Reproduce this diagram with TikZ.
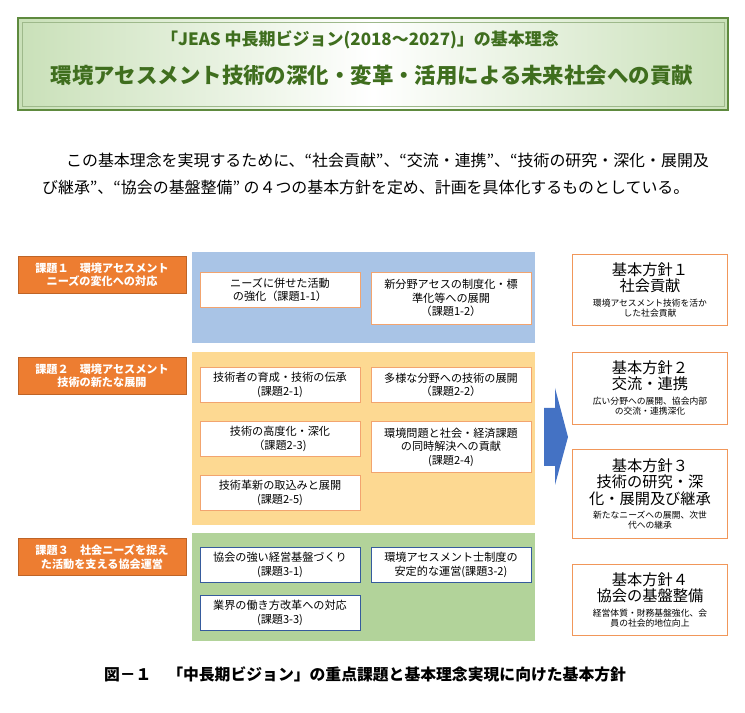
\documentclass[tikz,border=0pt]{standalone}
\usepackage{fontspec}
\setmainfont{Noto Sans CJK JP}
\usetikzlibrary{positioning}
\definecolor{titlegreen}{HTML}{3F6E1E}
\definecolor{rimgreen}{HTML}{5E8A3E}
\definecolor{paleblue}{HTML}{A9C4E6}
\definecolor{paleyellow}{HTML}{FDD992}
\definecolor{palegreen}{HTML}{B2D39A}
\definecolor{labelorange}{HTML}{ED7D31}
\definecolor{arrowblue}{HTML}{4472C4}
\newcommand{\subnote}{\fontsize{7.5}{9}\selectfont}
\tikzset{
  taskbox/.style={draw=labelorange!70,fill=white,line width=0.8pt,minimum width=4.8cm,
    minimum height=1.05cm,align=center,inner sep=1pt,font=\fontsize{9.5}{11.5}\selectfont},
  corebox/.style={taskbox,draw=arrowblue!80!black},
  themelabel/.style={fill=labelorange,draw=labelorange!80!black,text=white,minimum width=5.04cm,
    minimum height=1.12cm,align=center,inner sep=1pt,font=\bfseries\fontsize{9.5}{11.5}\selectfont},
  policybox/.style={draw=labelorange!80,fill=white,line width=0.8pt,minimum width=4.65cm,
    align=center,inner sep=2pt,font=\fontsize{13}{15}\selectfont}
}
\begin{document}
\begin{tikzpicture}[x=0.03cm,y=-0.03cm]
\useasboundingbox (0,0) rectangle (745,713);
% title panel
\draw[rimgreen,line width=2.5pt,left color=palegreen!70,right color=palegreen!70,middle color=white]
  (18,18) rectangle (728,110);
\draw[rimgreen!60,line width=0.5pt] (22,22) rectangle (724,106);
\node[font=\bfseries\fontsize{14.5}{16}\selectfont,text=titlegreen] (head) at (360,40)
  {「JEAS 中長期ビジョン(2018～2027)」の基本理念};
\node[font=\bfseries\fontsize{18.3}{20}\selectfont,text=titlegreen] (motto) at (372,75)
  {環境アセスメント技術の深化・変革・活用による未来社会への貢献};
% paragraph
\node[anchor=west,font=\fontsize{13.6}{15}\selectfont] (para1) at (62,160)
  {この基本理念を実現するために、“社会貢献”、“交流・連携”、“技術の研究・深化・展開及};
\node[anchor=west,font=\fontsize{13.6}{15}\selectfont] (para2) at (38,187)
  {び継承”、“協会の基盤整備” の４つの基本方針を定め、計画を具体化するものとしている。};
% panels
\fill[paleblue] (192,252) rectangle (535,343);
\fill[paleyellow] (192,352) rectangle (535,525);
\fill[palegreen] (192,533) rectangle (535,641);
% theme labels
\node[themelabel] (t1) at (102,275) {課題１　環境アセスメント\\ニーズの変化への対応};
\node[themelabel] (t2) at (102,376) {課題２　環境アセスメント\\技術の新たな展開};
\node[themelabel] (t3) at (102,557) {課題３　社会ニーズを捉え\\た活動を支える協会運営};
% tasks
\node[taskbox] (k11) at (280,290) {ニーズに併せた活動\\の強化（課題1-1）};
\node[taskbox,minimum height=1.56cm] (k12) at (451,298) {新分野アセスの制度化・標\\準化等への展開\\（課題1-2）};
\node[taskbox] (k21) at (280,385) {技術者の育成・技術の伝承\\(課題2-1)};
\node[taskbox] (k22) at (451,385) {多様な分野への技術の展開\\（課題2-2）};
\node[taskbox] (k23) at (280,439) {技術の高度化・深化\\（課題2-3)};
\node[taskbox,minimum height=1.53cm] (k24) at (451,447) {環境問題と社会・経済課題\\の同時解決への貢献\\(課題2-4)};
\node[taskbox] (k25) at (280,493) {技術革新の取込みと展開\\(課題2-5)};
\node[corebox] (k31) at (280,565) {協会の強い経営基盤づくり\\(課題3-1)};
\node[corebox] (k32) at (451,565) {環境アセスメント士制度の\\安定的な運営(課題3-2)};
\node[corebox] (k33) at (280,613) {業界の働き方改革への対応\\(課題3-3)};
% arrow
\fill[arrowblue] (544,408) -- (555,408) -- (555,388) -- (568,437) -- (555,485) -- (555,466) -- (544,466) -- cycle;
% policies
\node[policybox,minimum height=2.13cm] (p1) at (650,290)
  {基本方針１\\[-1pt]社会貢献\\[-3pt]\subnote 環境アセスメント技術を活か\\[-6pt]\subnote した社会貢献};
\node[policybox,minimum height=2.16cm] (p2) at (650,388)
  {基本方針２\\[-1pt]交流・連携\\[-3pt]\subnote 広い分野への展開、協会内部\\[-6pt]\subnote の交流・連携深化};
\node[policybox,minimum height=2.67cm] (p3) at (650,494)
  {基本方針３\\[-1pt]技術の研究・深\\[-1pt]化・展開及び継承\\[-3pt]\subnote 新たなニーズへの展開、次世\\[-6pt]\subnote 代への継承};
\node[policybox,minimum height=2.13cm] (p4) at (650,600)
  {基本方針４\\[-1pt]協会の基盤整備\\[-3pt]\subnote 経営体質・財務基盤強化、会\\[-6pt]\subnote 員の社会的地位向上};
% caption
\node[font=\bfseries\fontsize{13.5}{15}\selectfont] (cap) at (365,674)
  {図－１　「中長期ビジョン」の重点課題と基本理念実現に向けた基本方針};
\end{tikzpicture}
\end{document}
